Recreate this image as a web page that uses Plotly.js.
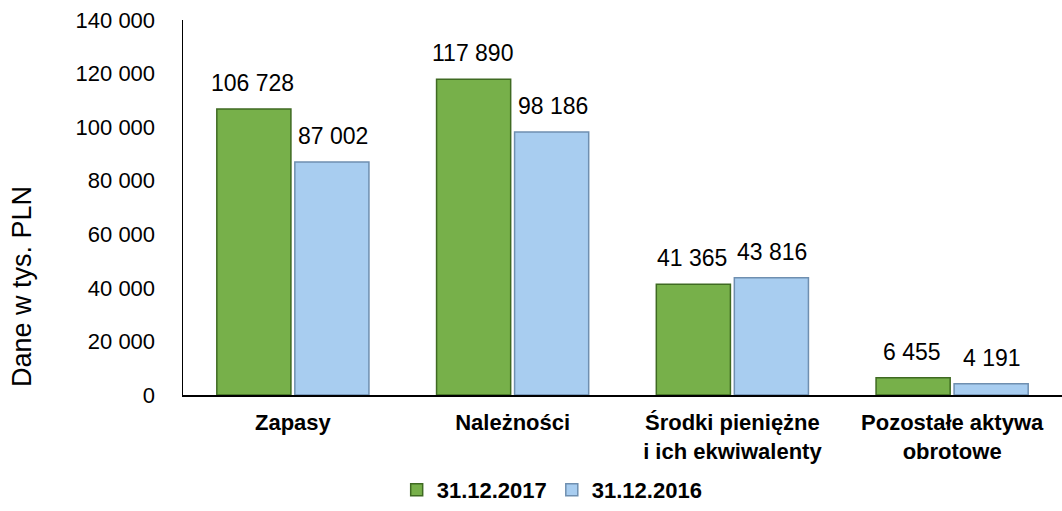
<!DOCTYPE html>
<html>
<head>
<meta charset="utf-8">
<script src="https://cdn.plot.ly/plotly-3.0.1.min.js"></script>
<style>
  html, body { margin: 0; padding: 0; background: #fff; }
  #chart { width: 1062px; height: 511px; }
</style>
</head>
<body>
<div id="chart"></div>
<script>
const kategorie = ["Zapasy", "Należności", "Środki pieniężne<br>i ich ekwiwalenty", "Pozostałe aktywa<br>obrotowe"];
const wartosci2017 = [106728, 117890, 41365, 6455];
const wartosci2016 = [87002, 98186, 43816, 4191];
const serie = ["31.12.2017", "31.12.2016"];
const tytulOsiY = "Dane w tys. PLN";

const fmt = (v) => String(v).replace(/\B(?=(\d{3})+(?!\d))/g, " ");

const traces = [
  {
    type: "bar", name: serie[0], x: kategorie, y: wartosci2017,
    marker: { color: "#77b04a", line: { color: "#3f6a22", width: 1.5 } },
    hoverinfo: "skip",
  },
  {
    type: "bar", name: serie[1], x: kategorie, y: wartosci2016,
    marker: { color: "#a8cdf0", line: { color: "#6f8fb0", width: 1.5 } },
    hoverinfo: "skip",
  },
];

// etykiety wartosci nad slupkami
const annotations = [];
kategorie.forEach((k, i) => {
  annotations.push({ x: k, y: wartosci2017[i], text: fmt(wartosci2017[i]), xshift: -40, yshift: 11,
    yanchor: "bottom", showarrow: false, font: { size: 23, color: "#000" } });
  annotations.push({ x: k, y: wartosci2016[i], text: fmt(wartosci2016[i]), xshift: 40, yshift: 11,
    yanchor: "bottom", showarrow: false, font: { size: 23, color: "#000" } });
});
// tytul osi Y - w oryginale przesuniety w dol, wiec jako adnotacja
annotations.push({ xref: "paper", yref: "paper", x: 0, y: 0.288, xshift: -161, textangle: -90,
  xanchor: "center", yanchor: "middle", text: tytulOsiY, showarrow: false, font: { size: 27, color: "#000" } });

Plotly.newPlot("chart", traces, {
  width: 1062, height: 511,
  margin: { l: 183, r: 0, t: 20, b: 116 },
  paper_bgcolor: "#fff", plot_bgcolor: "#fff",
  font: { family: "Liberation Sans, Arial, sans-serif", size: 22, color: "#000" },
  separators: ", ",
  barmode: "group", bargap: 0.29, bargroupgap: 0.05,
  showlegend: true,
  legend: { orientation: "h", x: 0.42, xanchor: "center", y: -0.253, yanchor: "middle",
    font: { size: 22, weight: "bold" }, itemwidth: 30, traceorder: "normal" },
  xaxis: {
    showline: true, linecolor: "#000", linewidth: 1.5, ticks: "",
    tickfont: { size: 22, weight: "bold" }, showgrid: false, fixedrange: true,
    ticklabelstandoff: 7,
  },
  yaxis: {
    range: [0, 140000], dtick: 20000, tickformat: ",d", showgrid: false, zeroline: false,
    showline: true, linecolor: "#000", linewidth: 1.5, ticks: "", ticklen: 0,
    tickfont: { size: 22 }, ticklabelstandoff: 22,
  },
  annotations,
}, { displayModeBar: false, staticPlot: true });
</script>
</body>
</html>
